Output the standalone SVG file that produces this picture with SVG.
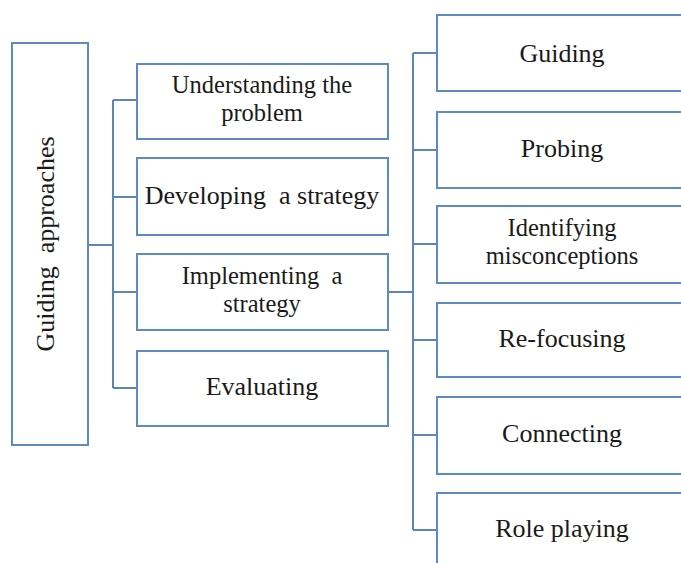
<svg xmlns="http://www.w3.org/2000/svg" width="681" height="563" viewBox="0 0 681 563">
<style>
.box{fill:#fff;stroke:#5b8ac4;stroke-width:2}
.ln{fill:none;stroke:#5b86b8;stroke-width:2}
text{font-family:"Liberation Serif","Times New Roman",serif;font-size:26px;fill:#1a1a1a;text-anchor:middle}
text.two{font-size:24.5px}
</style>
<rect width="681" height="563" fill="#fff"/>
<g id="connectors">
<path class="ln" d="M88,245 H113 M113,100 V388 M113,100 H137 M113,197 H137 M113,292 H137 M113,388 H137"/>
<path class="ln" d="M388,292 H413 M413,53 V530 M413,53 H437 M413,150 H437 M413,244 H437 M413,340 H437 M413,435 H437 M413,530 H437"/>
</g>
<g id="root"><rect class="box" x="12" y="43" width="76" height="402"/><text transform="translate(54,244) rotate(-90)" xml:space="preserve">Guiding  approaches</text></g>
<g id="understanding"><rect class="box" x="137" y="64" width="251" height="75"/><text class="two" x="262" y="93">Understanding the</text><text class="two" x="262" y="121">problem</text></g>
<g id="developing"><rect class="box" x="137" y="158" width="251" height="77"/><text x="262" y="204" xml:space="preserve">Developing  a strategy</text></g>
<g id="implementing"><rect class="box" x="137" y="254" width="251" height="76"/><text class="two" x="262" y="284" xml:space="preserve">Implementing  a</text><text class="two" x="262" y="312">strategy</text></g>
<g id="evaluating"><rect class="box" x="137" y="351" width="251" height="75"/><text x="262" y="395">Evaluating</text></g>
<g id="guiding"><rect class="box" x="437" y="15" width="260" height="76"/><text x="562" y="62">Guiding</text></g>
<g id="probing"><rect class="box" x="437" y="112" width="260" height="76"/><text x="562" y="157">Probing</text></g>
<g id="identifying"><rect class="box" x="437" y="206" width="260" height="77"/><text class="two" x="562" y="236">Identifying</text><text class="two" x="562" y="264">misconceptions</text></g>
<g id="refocusing"><rect class="box" x="437" y="303" width="260" height="74"/><text x="562" y="347">Re-focusing</text></g>
<g id="connecting"><rect class="box" x="437" y="397" width="260" height="77"/><text x="562" y="442">Connecting</text></g>
<g id="roleplaying"><rect class="box" x="437" y="493" width="260" height="90"/><text x="562" y="537">Role playing</text></g>
</svg>
